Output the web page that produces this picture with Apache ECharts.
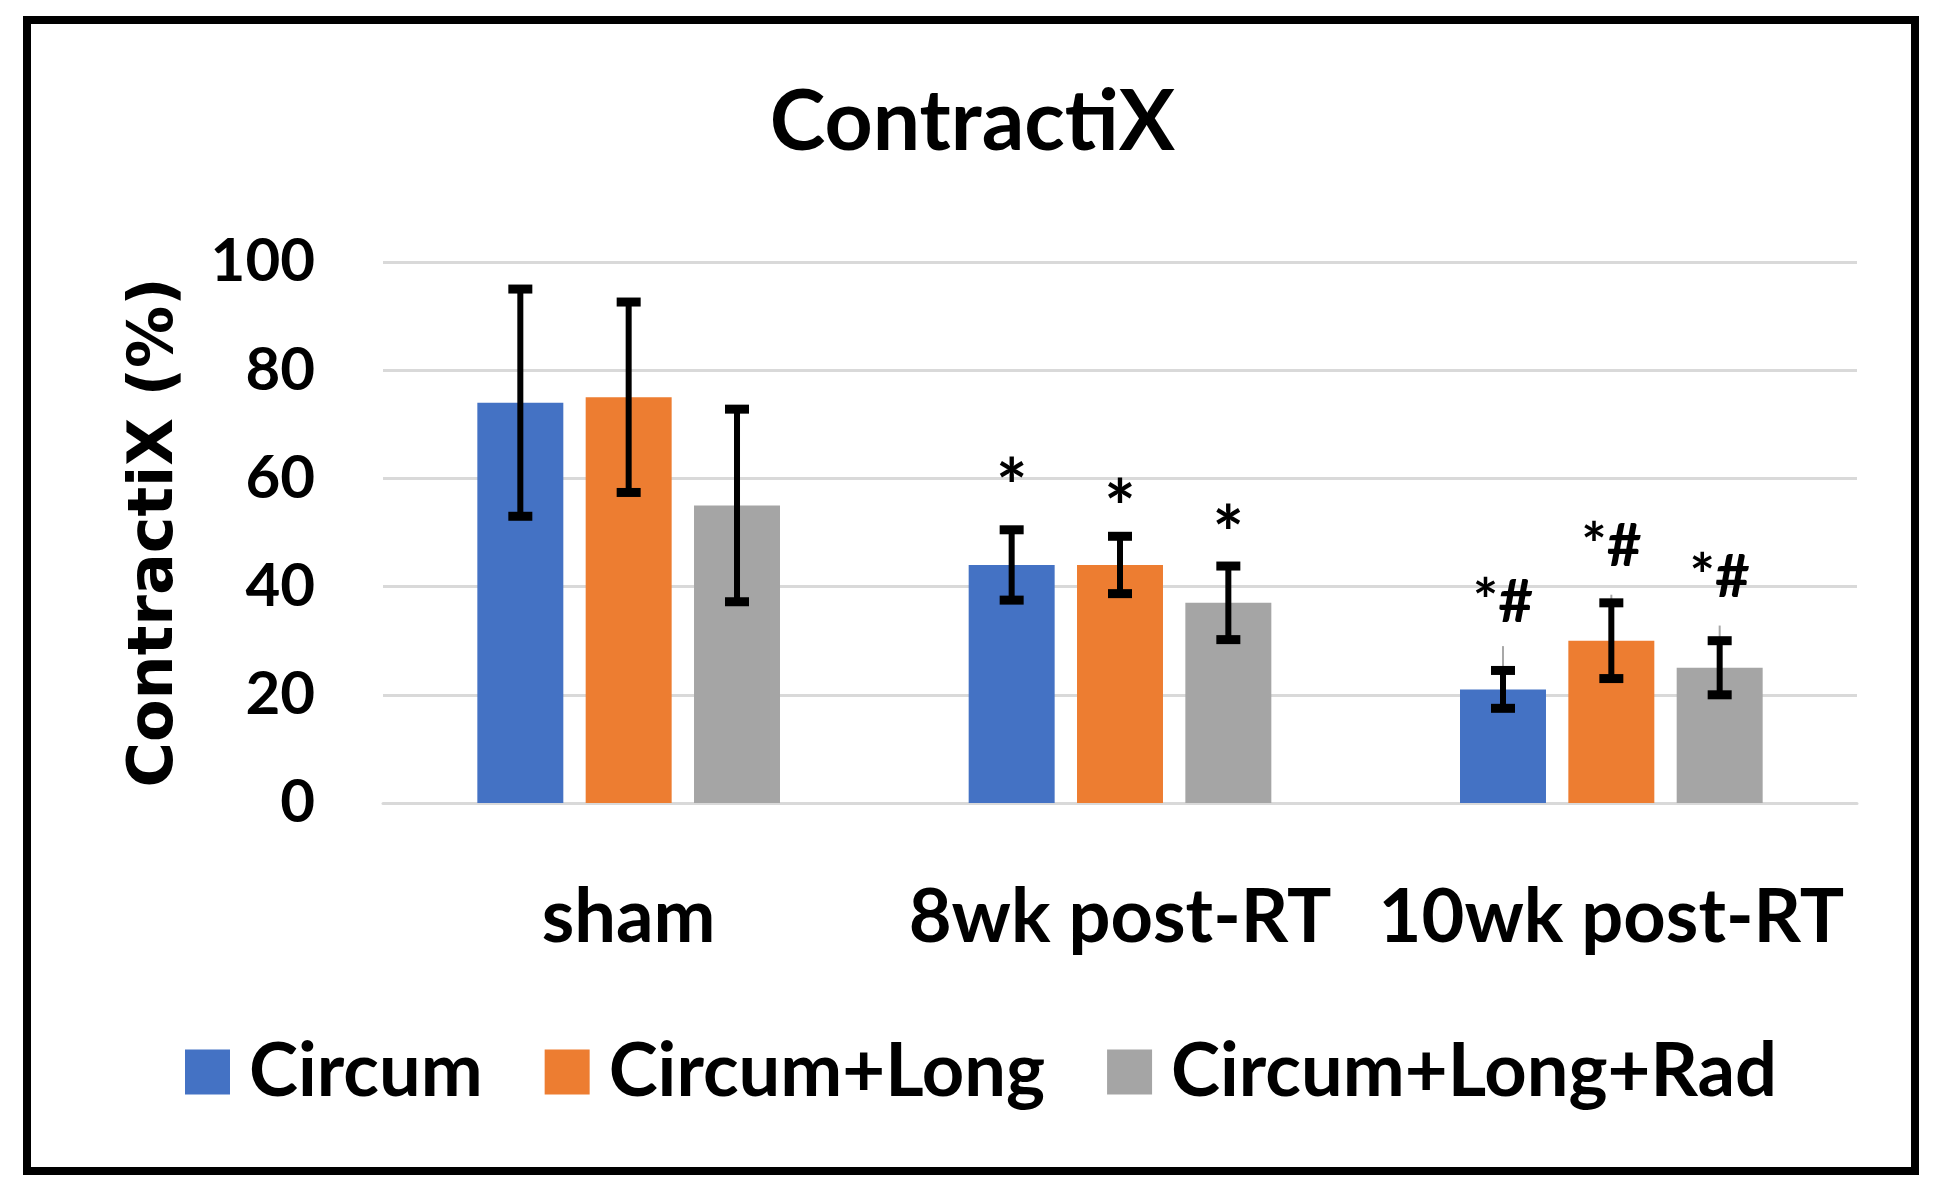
<!DOCTYPE html>
<html><head><meta charset="utf-8">
<script src="https://cdn.jsdelivr.net/npm/echarts@6/dist/echarts.min.js"></script>
<style>html,body{margin:0;padding:0;background:#fff}#c{width:1945px;height:1194px}</style>
</head><body><div id="c"></div>
<script>
const categories = ['sham', '8wk post-RT', '10wk post-RT'];
const seriesNames = ['Circum', 'Circum+Long', 'Circum+Long+Rad'];
const circum = [74, 44, 21];
const circumLong = [75, 44, 30];
const circumLongRad = [55, 37, 25];
const errCircum = [21, 6.5, 3.5];
const errCircumLong = [17.6, 5.3, 7];
const errCircumLongRad = [17.8, 6.8, 5];
const faintTopCircum = [null, null, 29];
const faintTopCircumLong = [null, null, 38.5];
const faintTopCircumLongRad = [null, null, 32.8];
const sigCircum = ['', '*', '*#'];
const sigCircumLong = ['', '*', '*#'];
const sigCircumLongRad = ['', '*', '*#'];
const sigPosCircum = [null, 61, 37.1];
const sigPosCircumLong = [null, 57.1, 47.3];
const sigPosCircumLongRad = [null, 52.3, 41.6];
const yTicks = [0, 20, 40, 60, 80, 100];

const colors = ['#4472C4', '#ED7D31', '#A5A5A5'];
const values = [circum, circumLong, circumLongRad];
const errs = [errCircum, errCircumLong, errCircumLongRad];
const faints = [faintTopCircum, faintTopCircumLong, faintTopCircumLongRad];
const sigs = [sigCircum, sigCircumLong, sigCircumLongRad];
const sigPos = [sigPosCircum, sigPosCircumLong, sigPosCircumLongRad];

const BAR_W = 0.175, BAR_GAP = 0.26;
const FONT = 'Lato';

function errSeries(k) {
  return {
    type: 'custom',
    name: 'err-' + seriesNames[k],
    z: 5,
    data: categories.map((c, i) => [i, values[k][i]]),
    renderItem(params, api) {
      const i = params.dataIndex;
      const v = values[k][i], e = errs[k][i];
      const bandW = api.size([1, 0])[0];
      const w = bandW * BAR_W;
      const cx = api.coord([i, v])[0] + (k - 1) * w * (1 + BAR_GAP);
      const yTop = api.coord([i, v + e])[1];
      const yBot = api.coord([i, v - e])[1];
      const capW = 24, stemW = 6, capT = 9;
      const children = [];
      const ft = faints[k][i];
      if (ft != null) {
        children.push({type: 'line', shape: {x1: cx, y1: api.coord([i, v])[1], x2: cx, y2: api.coord([i, ft])[1]},
          style: {stroke: '#a8a8a8', lineWidth: 2}});
      }
      children.push({type: 'line', shape: {x1: cx, y1: yTop, x2: cx, y2: yBot}, style: {stroke: '#000', lineWidth: stemW}});
      children.push({type: 'line', shape: {x1: cx - capW / 2, y1: yTop, x2: cx + capW / 2, y2: yTop}, style: {stroke: '#000', lineWidth: capT}});
      children.push({type: 'line', shape: {x1: cx - capW / 2, y1: yBot, x2: cx + capW / 2, y2: yBot}, style: {stroke: '#000', lineWidth: capT}});
      const s = sigs[k][i];
      if (s) {
        const starOnly = s === '*';
        const sy = api.coord([i, sigPos[k][i]])[1] + (starOnly ? 16 : 0);
        children.push({type: 'text', style: {text: s, x: cx, y: sy, align: 'center', verticalAlign: 'middle',
          fontSize: starOnly ? 74 : 60, fontWeight: 'bold', fontFamily: FONT, fill: '#000'}});
      }
      return {type: 'group', children};
    }
  };
}

const chart = echarts.init(document.getElementById('c'));
chart.setOption({
  backgroundColor: '#fff',
  animation: false,
  title: {
    text: 'ContractiX', left: 'center', top: 76,
    textStyle: {fontFamily: FONT, fontWeight: 'bold', fontSize: 84, color: '#000'}
  },
  legend: {
    data: seriesNames, left: 180, top: 1030,
    itemWidth: 45, itemHeight: 45, itemGap: 62,
    icon: 'rect',
    textStyle: {fontFamily: FONT, fontWeight: 'bold', fontSize: 74, color: '#000', padding: [0, 0, 0, 14]}
  },
  grid: {left: 383, right: 88, top: 262, bottom: 391},
  xAxis: {
    type: 'category', data: categories,
    axisLine: {show: true, lineStyle: {color: '#D9D9D9', width: 3}},
    axisTick: {show: false},
    axisLabel: {interval: 0, fontFamily: FONT, fontWeight: 'bold', fontSize: 74, color: '#000', margin: 78}
  },
  yAxis: {
    type: 'value', min: yTicks[0], max: yTicks[yTicks.length - 1], interval: yTicks[1] - yTicks[0],
    name: 'ContractiX (%)', nameLocation: 'middle', nameGap: 196,
    nameTextStyle: {fontFamily: 'DejaVu Sans', fontWeight: 'bold', fontSize: 62, color: '#000'},
    axisLine: {show: false}, axisTick: {show: false},
    axisLabel: {fontFamily: FONT, fontWeight: 'bold', fontSize: 60, color: '#000', margin: 68},
    splitLine: {lineStyle: {color: '#D9D9D9', width: 3}}
  },
  graphic: [{
    type: 'rect', left: 23, top: 16, z: 100, silent: true,
    shape: {x: 0, y: 0, width: 1888, height: 1151},
    style: {fill: 'none', stroke: '#000', lineWidth: 8}
  }],
  series: [
    ...seriesNames.map((n, k) => ({
      type: 'bar', name: n, data: values[k], barWidth: (BAR_W * 100) + '%', barGap: (BAR_GAP * 100) + '%',
      itemStyle: {color: colors[k]}
    })),
    errSeries(0), errSeries(1), errSeries(2)
  ]
});
</script></body></html>
